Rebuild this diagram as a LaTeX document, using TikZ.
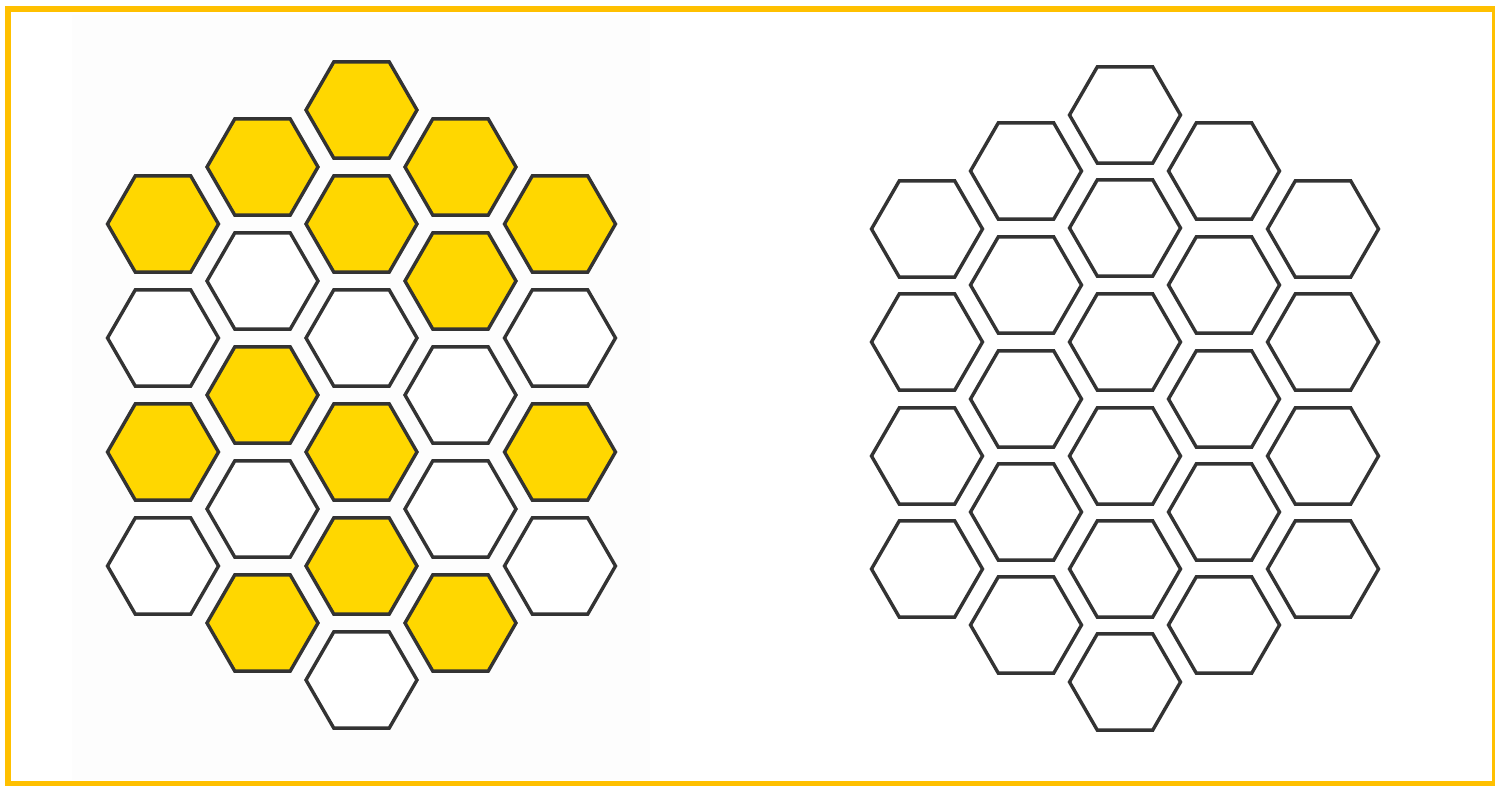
\documentclass[tikz,border=0pt]{standalone}
\usetikzlibrary{shapes.geometric}
\definecolor{honey}{HTML}{FFD700}
\definecolor{framecol}{HTML}{FFC000}
\definecolor{cellline}{HTML}{333333}

\begin{document}
\begin{tikzpicture}[x=0.5pt,y=-0.5pt,every node/.style={inner sep=0pt,outer sep=0pt},
  cell/.style={regular polygon,regular polygon sides=6,minimum size=55.5pt,draw=cellline,line width=1.7pt,fill=white},
  full/.style={cell,fill=honey}]
  \useasboundingbox (0,0) rectangle (1495,786);
  \fill[black!0.8] (72,15) rectangle (650,780);
  \draw[framecol,line width=3pt] (7.5,9) rectangle (1494.5,784);
  % left comb, partly filled
  \node[full] (la1) at (163,224) {};
  \node[cell] (la2) at (163,338) {};
  \node[full] (la3) at (163,452) {};
  \node[cell] (la4) at (163,566) {};
  \node[full] (lb1) at (262.5,167) {};
  \node[cell] (lb2) at (262.5,281) {};
  \node[full] (lb3) at (262.5,395) {};
  \node[cell] (lb4) at (262.5,509) {};
  \node[full] (lb5) at (262.5,623) {};
  \node[full] (lc1) at (361.5,110) {};
  \node[full] (lc2) at (361.5,224) {};
  \node[cell] (lc3) at (361.5,338) {};
  \node[full] (lc4) at (361.5,452) {};
  \node[full] (lc5) at (361.5,566) {};
  \node[cell] (lc6) at (361.5,680) {};
  \node[full] (ld1) at (460.5,167) {};
  \node[full] (ld2) at (460.5,281) {};
  \node[cell] (ld3) at (460.5,395) {};
  \node[cell] (ld4) at (460.5,509) {};
  \node[full] (ld5) at (460.5,623) {};
  \node[full] (le1) at (560,224) {};
  \node[cell] (le2) at (560,338) {};
  \node[full] (le3) at (560,452) {};
  \node[cell] (le4) at (560,566) {};
  % right comb, all empty
  \node[cell] (ra1) at (927,229) {};
  \node[cell] (ra2) at (927,342) {};
  \node[cell] (ra3) at (927,456) {};
  \node[cell] (ra4) at (927,569) {};
  \node[cell] (rb1) at (1026,171) {};
  \node[cell] (rb2) at (1026,285) {};
  \node[cell] (rb3) at (1026,399) {};
  \node[cell] (rb4) at (1026,512) {};
  \node[cell] (rb5) at (1026,625) {};
  \node[cell] (rc1) at (1125,115) {};
  \node[cell] (rc2) at (1125,228) {};
  \node[cell] (rc3) at (1125,342) {};
  \node[cell] (rc4) at (1125,456) {};
  \node[cell] (rc5) at (1125,569) {};
  \node[cell] (rc6) at (1125,682) {};
  \node[cell] (rd1) at (1224,171) {};
  \node[cell] (rd2) at (1224,285) {};
  \node[cell] (rd3) at (1224,399) {};
  \node[cell] (rd4) at (1224,512) {};
  \node[cell] (rd5) at (1224,625) {};
  \node[cell] (re1) at (1323,229) {};
  \node[cell] (re2) at (1323,342) {};
  \node[cell] (re3) at (1323,456) {};
  \node[cell] (re4) at (1323,569) {};
\end{tikzpicture}
\end{document}
